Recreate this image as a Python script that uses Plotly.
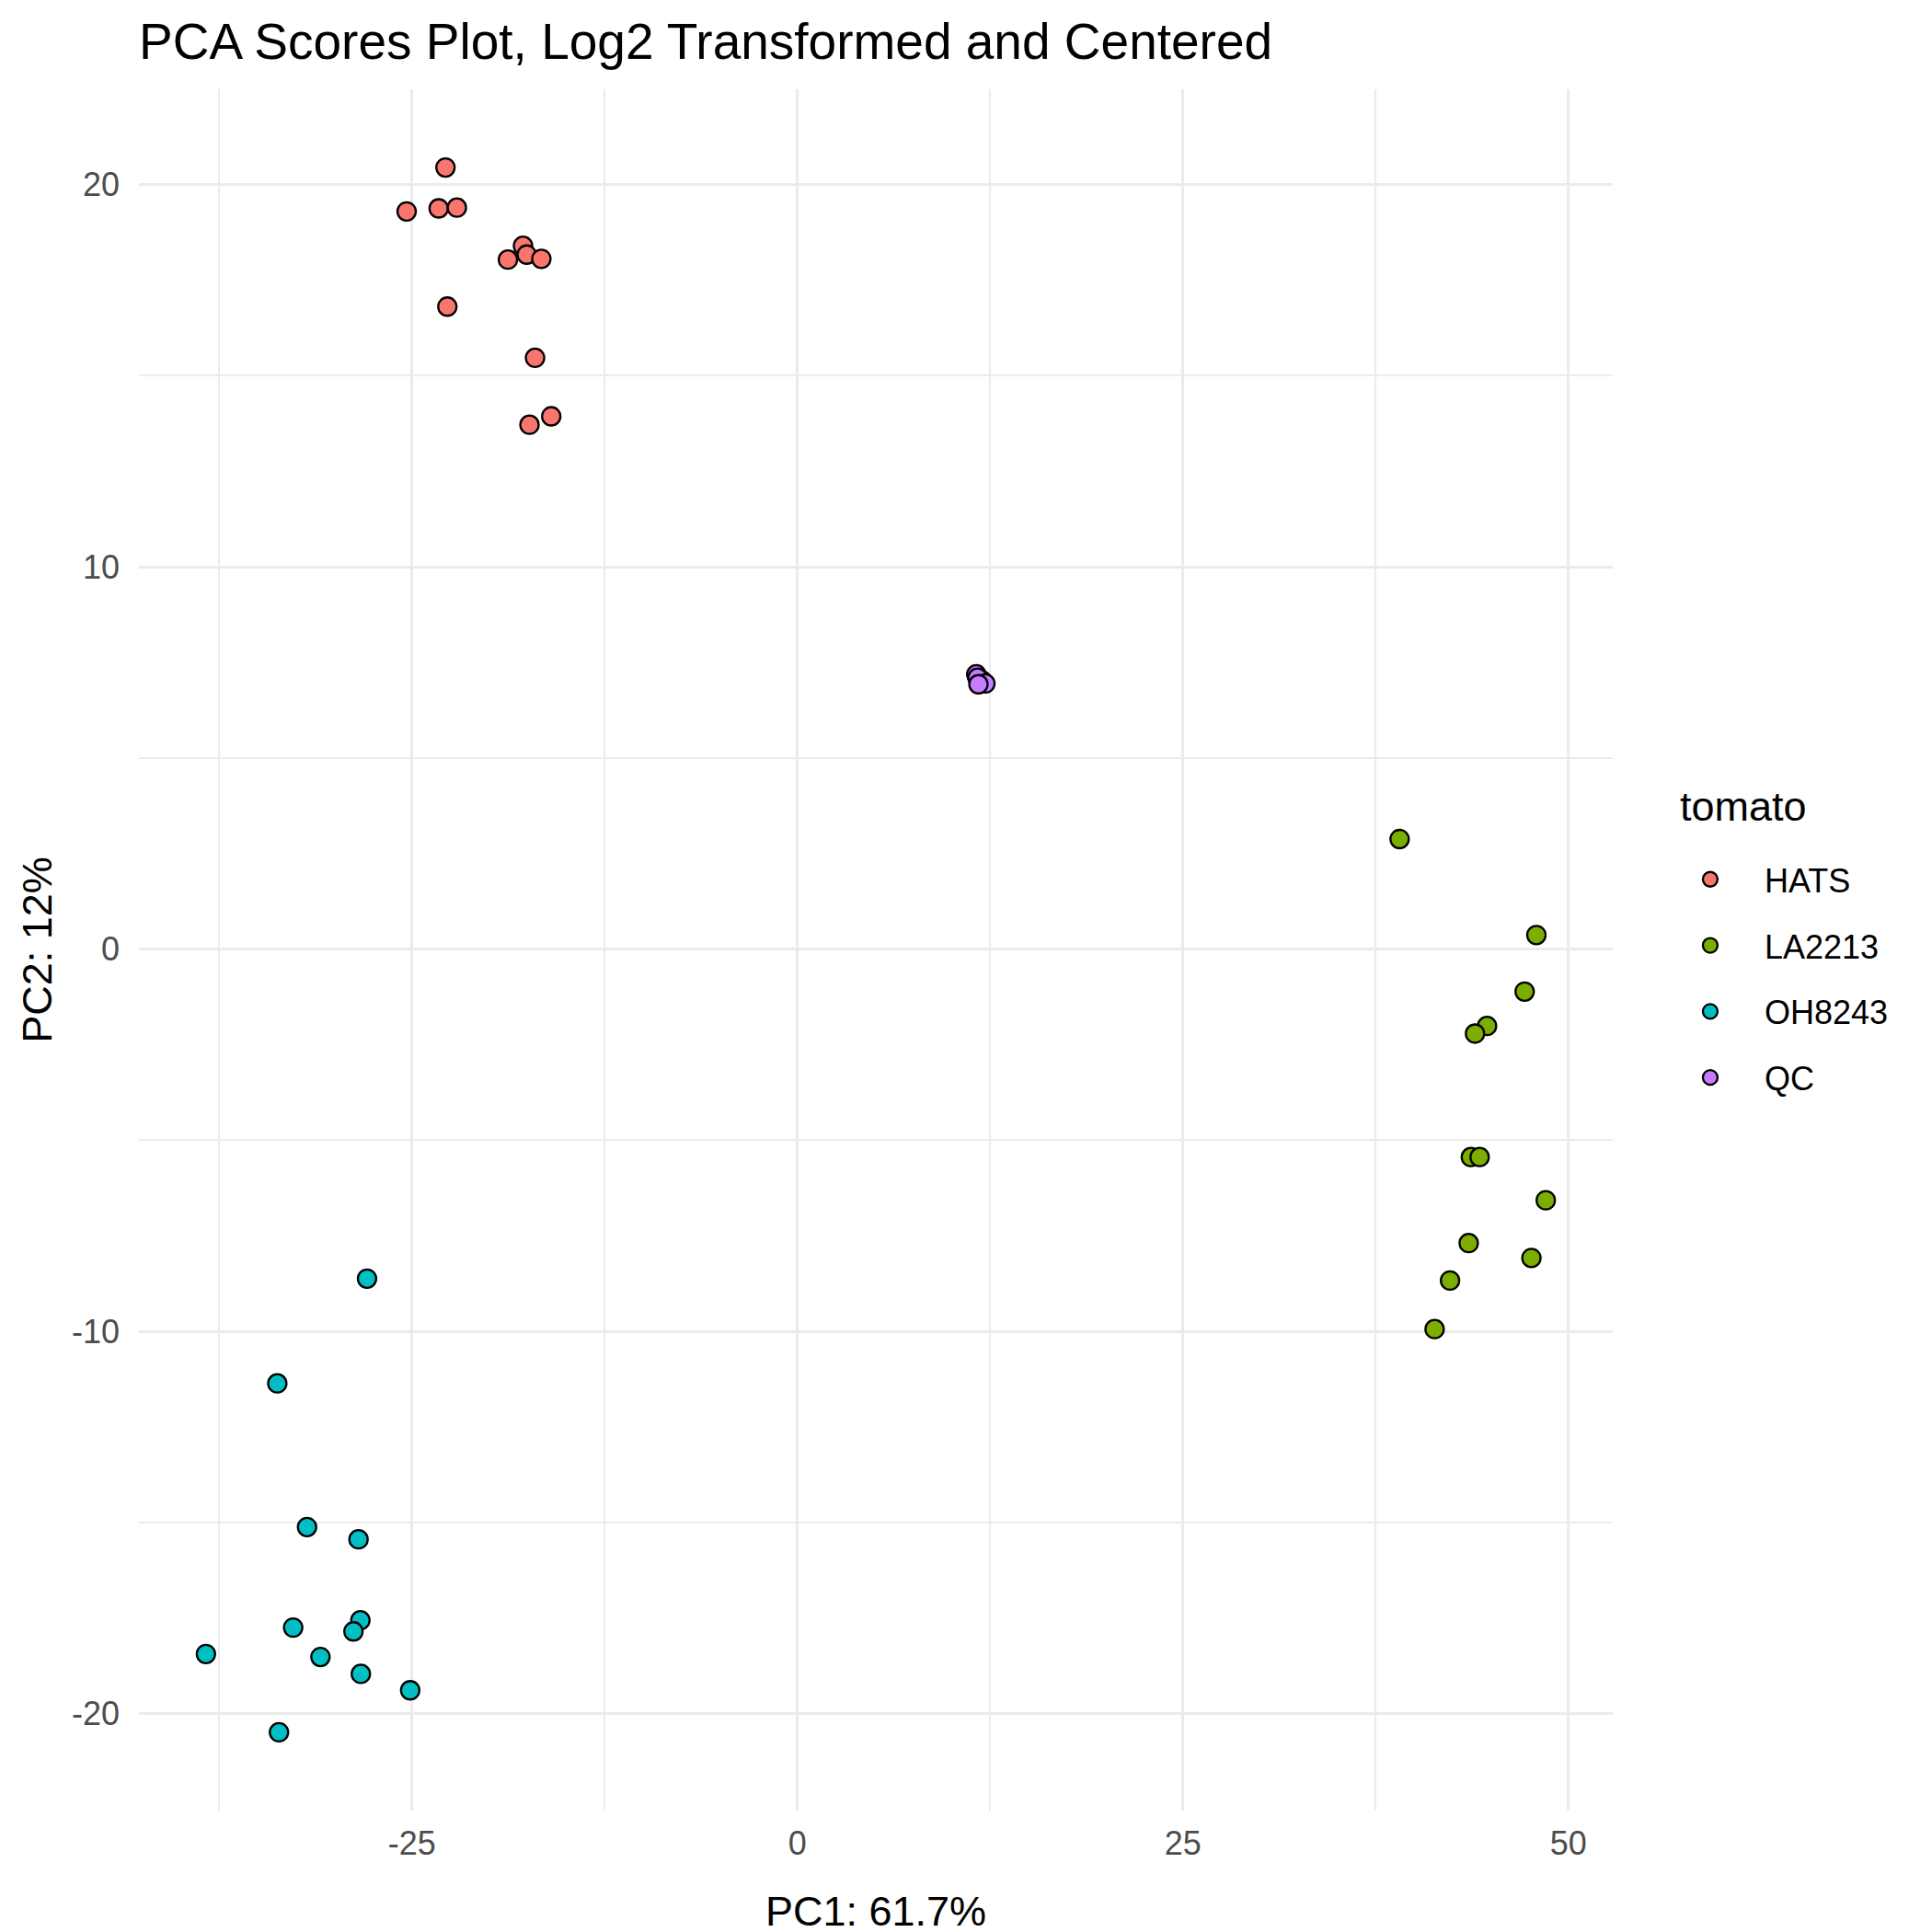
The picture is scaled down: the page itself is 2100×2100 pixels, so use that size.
import plotly.graph_objects as go

# ---- data ----
groups = ["HATS", "LA2213", "OH8243", "QC"]
colors = ["#F8766D", "#7CAE00", "#00BFC4", "#C77CFF"]

hats_pc1 = [-22.83, -25.35, -23.27, -22.09, -17.80, -18.78, -17.56, -16.61, -22.71, -17.02, -15.97, -17.38]
hats_pc2 = [20.45, 19.30, 19.38, 19.40, 18.40, 18.04, 18.17, 18.06, 16.81, 15.47, 13.94, 13.72]

la2213_pc1 = [39.06, 47.93, 47.17, 44.73, 43.95, 43.68, 44.25, 48.54, 43.54, 47.61, 42.33, 41.33]
la2213_pc2 = [2.88, 0.37, -1.11, -2.01, -2.21, -5.44, -5.44, -6.57, -7.69, -8.08, -8.67, -9.94]

oh8243_pc1 = [-27.92, -33.74, -31.81, -28.47, -28.35, -28.80, -32.71, -38.37, -30.94, -28.32, -25.12, -33.63]
oh8243_pc2 = [-8.62, -11.36, -15.12, -15.44, -17.56, -17.85, -17.75, -18.44, -18.52, -18.96, -19.39, -20.49]

qc_pc1 = [11.60, 11.97, 11.68, 12.19, 11.74]
qc_pc2 = [7.19, 7.03, 7.10, 6.95, 6.93]

x_ticks = [-25, 0, 25, 50]
y_ticks = [-20, -10, 0, 10, 20]
x_minor = [-37.5, -12.5, 12.5, 37.5]
y_minor = [-15, -5, 5, 15]

series = [
    (hats_pc1, hats_pc2),
    (la2213_pc1, la2213_pc2),
    (oh8243_pc1, oh8243_pc2),
    (qc_pc1, qc_pc2),
]

FONT = "Liberation Sans, Arial, Helvetica, sans-serif"
GRID = "#EBEBEB"

fig = go.Figure()
for name, col, (xs, ys) in zip(groups, colors, series):
    fig.add_trace(go.Scatter(
        x=xs, y=ys, mode="markers", name=name, legendgroup=name,
        marker=dict(size=20, color=col, line=dict(color="black", width=2.3)),
    ))

# ggplot-style 5% expansion
all_x = hats_pc1 + la2213_pc1 + oh8243_pc1 + qc_pc1
all_y = hats_pc2 + la2213_pc2 + oh8243_pc2 + qc_pc2
dx = (max(all_x) - min(all_x)) * 0.05
dy = (max(all_y) - min(all_y)) * 0.05

L, T, PW, PH = 143, 89, 1602, 1871
R = 2100 - L - PW
B = 2100 - T - PH

fig.update_layout(
    width=2100, height=2100,
    margin=dict(l=L, r=R, t=T, b=B, autoexpand=False),
    paper_bgcolor="white", plot_bgcolor="white",
    font=dict(family=FONT, color="black"),
    title=dict(
        text="PCA Scores Plot, Log2 Transformed and Centered",
        font=dict(size=55, color="black", family=FONT),
        x=L / 2100, xanchor="left", xref="container",
        y=1 - 37 / 2100, yanchor="middle", yref="container",
    ),
    legend=dict(
        font=dict(size=36, color="black"),
        x=1.0293, xanchor="left", y=0.557, yanchor="top",
        itemsizing="trace", itemwidth=108,
        bgcolor="rgba(0,0,0,0)",
        tracegroupgap=22,
    ),
    annotations=[dict(
        text="tomato", xref="paper", yref="paper",
        x=(1816 - L) / PW, y=(T + PH - 869) / PH,
        xanchor="left", yanchor="middle", showarrow=False,
        font=dict(size=45, color="black", family=FONT),
    )],
    xaxis=dict(
        range=[min(all_x) - dx, max(all_x) + dx],
        tickvals=x_ticks, ticktext=[str(v) for v in x_ticks],
        showgrid=True, gridcolor=GRID, gridwidth=3,
        zeroline=False, showline=False, ticks="",
        tickfont=dict(size=36, color="#4D4D4D"),
        ticklabelstandoff=11, automargin=False,
        minor=dict(tickvals=x_minor, showgrid=True, gridcolor=GRID, gridwidth=1.5),
        title=dict(text="PC1: 61.7%", font=dict(size=45, color="black"), standoff=38),
    ),
    yaxis=dict(
        range=[min(all_y) - dy, max(all_y) + dy],
        tickvals=y_ticks, ticktext=[str(v) for v in y_ticks],
        showgrid=True, gridcolor=GRID, gridwidth=3,
        zeroline=False, showline=False, ticks="",
        tickfont=dict(size=36, color="#4D4D4D"),
        ticklabelstandoff=20, automargin=False,
        minor=dict(tickvals=y_minor, showgrid=True, gridcolor=GRID, gridwidth=1.5),
        title=dict(text="PC2: 12%", font=dict(size=45, color="black"), standoff=7),
    ),
)

fig.write_html("out.html")
